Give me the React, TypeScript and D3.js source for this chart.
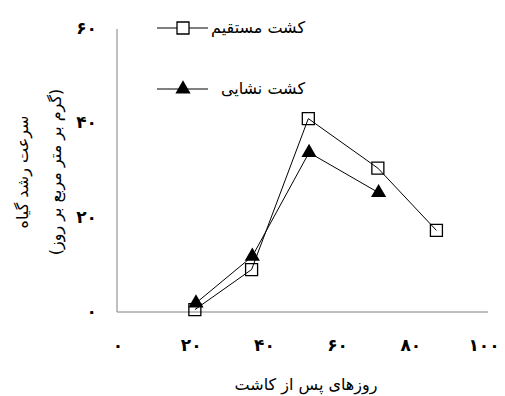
import React, { useEffect, useRef } from "react";
import * as d3 from "d3";

// days after planting
const directDays = [21, 36.5, 52, 71, 87];
const directRate = [0.5, 9, 41, 30.5, 17.3];
const transplantDays = [21.3, 36.7, 52.2, 71.2];
const transplantRate = [1.9, 11.8, 33.8, 25.3];

const xTicks = [0, 20, 40, 60, 80, 100];
const yTicks = [0, 20, 40, 60];

const seriesNames = ["کشت مستقیم", "کشت نشایی"];
const yTitle = ["سرعت رشد گیاه", "(گرم بر متر مربع بر روز)"];
const xTitle = "روزهای پس از کاشت";

const toFa = (n: number) => String(n).replace(/\d/g, (d) => "۰۱۲۳۴۵۶۷۸۹"[+d]);

export default function App() {
  const ref = useRef<SVGSVGElement>(null);

  useEffect(() => {
    const svg = d3.select(ref.current);
    svg.selectAll("*").remove();
    const font = "DejaVu Sans, sans-serif";

    const x = d3.scaleLinear().domain([0, 100]).range([118, 484]);
    const y = d3.scaleLinear().domain([0, 60]).range([312, 29]);

    // axes
    svg.append("line")
      .attr("x1", 117).attr("x2", 117)
      .attr("y1", y(60)).attr("y2", y(0))
      .attr("stroke", "#808080").attr("stroke-width", 1);
    svg.append("line")
      .attr("x1", 117).attr("x2", 488)
      .attr("y1", y(0)).attr("y2", y(0))
      .attr("stroke", "#808080").attr("stroke-width", 1);

    svg.selectAll(".ytick")
      .data(yTicks)
      .enter()
      .append("text")
      .attr("x", 97)
      .attr("y", (d) => y(d) + 5)
      .attr("text-anchor", "end")
      .attr("font-family", font)
      .attr("font-size", 17)
      .attr("font-weight", "bold")
      .text((d) => toFa(d));

    svg.selectAll(".xtick")
      .data(xTicks)
      .enter()
      .append("text")
      .attr("x", (d) => x(d))
      .attr("y", 351)
      .attr("text-anchor", "middle")
      .attr("font-family", font)
      .attr("font-size", 17)
      .attr("font-weight", "bold")
      .text((d) => toFa(d));

    // titles
    svg.append("text")
      .attr("x", 306).attr("y", 390)
      .attr("text-anchor", "middle")
      .attr("direction", "rtl")
      .attr("font-family", font)
      .attr("font-size", 16)
      .text(xTitle);

    yTitle.forEach((t, i) => {
      svg.append("text")
        .attr("transform", `translate(${28 + i * 33},172) rotate(-90)`)
        .attr("text-anchor", "middle")
        .attr("direction", "rtl")
        .attr("font-family", font)
        .attr("font-size", 16)
        .text(t);
    });

    const line = d3.line<[number, number]>()
      .x((d) => x(d[0]))
      .y((d) => y(d[1]));

    const direct = directDays.map((d, i) => [d, directRate[i]] as [number, number]);
    const trans = transplantDays.map((d, i) => [d, transplantRate[i]] as [number, number]);

    svg.append("path").attr("d", line(direct)).attr("fill", "none").attr("stroke", "#000").attr("stroke-width", 1);
    svg.append("path").attr("d", line(trans)).attr("fill", "none").attr("stroke", "#000").attr("stroke-width", 1);

    const sq = d3.symbol().type(d3.symbolSquare).size(144);
    const tri = d3.symbol().type(d3.symbolTriangle).size(100);

    svg.selectAll(".sq")
      .data(direct)
      .enter()
      .append("path")
      .attr("d", sq)
      .attr("transform", (d) => `translate(${x(d[0])},${y(d[1])})`)
      .attr("fill", "none")
      .attr("stroke", "#000")
      .attr("stroke-width", 1.3);

    svg.selectAll(".tri")
      .data(trans)
      .enter()
      .append("path")
      .attr("d", tri)
      .attr("transform", (d) => `translate(${x(d[0])},${y(d[1])})`)
      .attr("fill", "#000");

    // legend
    const legY = [28, 89];
    legY.forEach((ly, i) => {
      svg.append("line")
        .attr("x1", 157).attr("x2", 208)
        .attr("y1", ly).attr("y2", ly)
        .attr("stroke", "#000").attr("stroke-width", 1);
      svg.append("path")
        .attr("d", i === 0 ? sq : tri)
        .attr("transform", `translate(183,${ly})`)
        .attr("fill", i === 0 ? "#fff" : "#000")
        .attr("stroke", i === 0 ? "#000" : "none")
        .attr("stroke-width", 1.3);
      svg.append("text")
        .attr("x", 305).attr("y", ly + 5)
        .attr("text-anchor", "end")
        .attr("font-family", font)
        .attr("font-size", 16)
        .text(seriesNames[i]);
    });
  }, []);

  return (
    <svg
      ref={ref}
      width={505}
      height={396}
      style={{ position: "absolute", left: 0, top: 0, background: "#fff" }}
    />
  );
}
